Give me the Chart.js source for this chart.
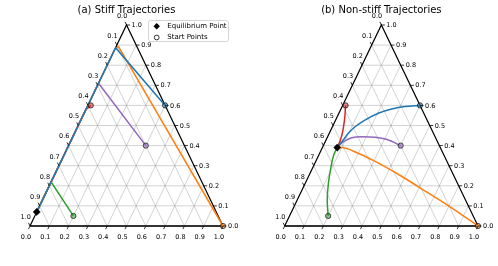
<!DOCTYPE html>
<html><head><meta charset="utf-8">
<script src="https://cdn.jsdelivr.net/npm/chart.js@4.4.0/dist/chart.umd.min.js"></script>
<style>
html,body{margin:0;padding:0;background:#fff;}
#wrap{position:relative;width:498px;height:266px;overflow:hidden;}
canvas{position:absolute;top:0;}
</style></head><body>
<div id="wrap">
<canvas id="ca" width="249" height="266" style="left:0"></canvas>
<canvas id="cb" width="249" height="266" style="left:249px"></canvas>
</div>
<script>
// ---- data (ternary coordinates: [bottom-axis value, right-axis value]) ----
const tickValues = [0,0.1,0.2,0.3,0.4,0.5,0.6,0.7,0.8,0.9,1.0];
const tickLabels = ['0.0','0.1','0.2','0.3','0.4','0.5','0.6','0.7','0.8','0.9','1.0'];
const titles = ['(a) Stiff Trajectories','(b) Non-stiff Trajectories'];
const legendLabels = ['Equilibrium Point','Start Points'];
const seriesColors = ['#1f77b4','#ff7f0e','#2ca02c','#d62728','#9467bd']; // blue, orange, green, red, purple
const startPoints = [[0.40,0.60],[1.00,0.00],[0.20,0.05],[0.015,0.60],[0.40,0.40]];
const eqStiff = [0.00,0.07];
const eqNonStiff = [0.077,0.39];

const stiffBlue   = [[0.40,0.60],[0.00,0.887],[0.00,0.07]];
const stiffOrange = [[1.00,0.00],[0.012,0.893],[0.00,0.88],[0.00,0.07]];
const stiffGreen  = [[0.20,0.05],[0.00,0.219],[0.00,0.07]];
const stiffRed    = [[0.015,0.60],[0.00,0.577],[0.00,0.07]];
const stiffPurple = [[0.40,0.40],[0.00,0.71],[0.00,0.07]];

const nsBlue   = [[0.40,0.60],[0.325,0.594],[0.263,0.582],[0.2035,0.561],[0.1515,0.527],[0.117,0.494],[0.0985,0.461],[0.089,0.428],[0.077,0.39]];
const nsOrange = [[1.00,0.00],[0.8665,0.067],[0.735,0.13],[0.605,0.19],[0.475,0.25],[0.3475,0.305],[0.285,0.33],[0.199,0.362],[0.098,0.39],[0.077,0.39]];
const nsGreen  = [[0.20,0.05],[0.1555,0.129],[0.12,0.212],[0.0945,0.287],[0.0785,0.345],[0.076,0.378],[0.077,0.39]];
const nsRed    = [[0.015,0.60],[0.036,0.552],[0.06,0.486],[0.073,0.436],[0.077,0.39]];
const nsPurple = [[0.40,0.40],[0.322,0.428],[0.2465,0.441],[0.176,0.444],[0.1275,0.439],[0.10,0.424],[0.083,0.406],[0.077,0.39]];

// ---- helpers ----
const toXY = p => ({x: p[0] + 0.5*p[1], y: p[1]});
function withAlpha(hex, a){
  const n = parseInt(hex.slice(1),16);
  return `rgba(${(n>>16)&255},${(n>>8)&255},${n&255},${a})`;
}
function lineDs(points, color, width, curve){
  const d = {data: points.map(toXY), showLine:true, borderColor:color, borderWidth:width,
          pointRadius:0, tension:0, clip:false, fill:false};
  if (curve === 'monotone') d.cubicInterpolationMode = 'monotone';
  else if (curve === 'bezier') d.tension = 0.4;
  return d;
}
function gridDatasets(){
  const out = [];
  const gc = 'rgba(120,120,120,0.55)';
  tickValues.forEach(v=>{
    if (v<=0 || v>=1) return;
    out.push(lineDs([[0,v],[1-v,v]], gc, 0.6));     // right-axis lines
    out.push(lineDs([[v,0],[v,1-v]], gc, 0.6));     // bottom-axis lines
    out.push(lineDs([[1-v,0],[0,1-v]], gc, 0.6));   // left-axis lines
  });
  return out;
}
function buildDatasets(trajs, eq, curves){
  const bottomToTop = [];
  gridDatasets().forEach(d=>bottomToTop.push(d));
  bottomToTop.push(lineDs([[0,0],[1,0]], '#333', 1.8));
  bottomToTop.push(lineDs([[1,0],[0,1],[0,0]], '#000', 1.2));
  // draw order: purple, red, green, orange, blue (blue on top)
  [4,3,2,1,0].forEach(i=>bottomToTop.push(lineDs(trajs[i], seriesColors[i], 1.5, curves[i])));
  bottomToTop.push({data: startPoints.map(toXY), showLine:false, pointStyle:'circle', pointRadius:2.6,
    backgroundColor: seriesColors.map(c=>withAlpha(c,0.55)), borderColor:'#222', borderWidth:0.8, clip:false});
  bottomToTop.push({data:[toXY(eq)], showLine:false, pointStyle:'rectRot', pointRadius:3.6,
    backgroundColor:'#000', borderColor:'#000', borderWidth:0.5, clip:false});
  return bottomToTop.reverse(); // Chart.js draws first dataset on top
}

const ternaryAxes = {
  id:'ternaryAxes',
  afterDatasetsDraw(chart){
    const ctx = chart.ctx, xs = chart.scales.x, ys = chart.scales.y;
    const P = (b,r)=>[xs.getPixelForValue(b+0.5*r), ys.getPixelForValue(r)];
    const [x0,y0] = P(0,0), [x1,y1] = P(0,1);
    let ux = x1-x0, uy = y1-y0; const n = Math.hypot(ux,uy); ux/=n; uy/=n;
    const TL = 3.5;
    ctx.save();
    ctx.strokeStyle = '#000'; ctx.fillStyle = '#000'; ctx.lineWidth = 0.8;
    ctx.font = '6.5px "DejaVu Sans"';
    const seg = (a,b,c,d)=>{ctx.beginPath();ctx.moveTo(a,b);ctx.lineTo(c,d);ctx.stroke();};
    tickValues.forEach((v,i)=>{
      const lab = tickLabels[i];
      let [px,py] = P(v,0);
      seg(px,py,px-ux*TL,py-uy*TL);
      ctx.textAlign='center'; ctx.textBaseline='middle';
      ctx.fillText(lab, px-4, py+11);
      [px,py] = P(1-v,v);
      seg(px,py,px+TL,py);
      ctx.textAlign='left';
      ctx.fillText(lab, px+5, py+0.5);
      [px,py] = P(0,1-v);
      seg(px,py,px-ux*TL,py+uy*TL);
      ctx.textAlign='center';
      ctx.fillText(lab, px-4.4, py-8.8);
    });
    ctx.restore();
  }
};

const legendPlugin = {
  id:'ternLegend',
  afterDraw(chart){
    const ctx = chart.ctx;
    const bx = 148.5, by = 20.5, bw = 80, bh = 21;
    ctx.save();
    ctx.beginPath();
    if (ctx.roundRect) ctx.roundRect(bx,by,bw,bh,2); else ctx.rect(bx,by,bw,bh);
    ctx.fillStyle='rgba(255,255,255,0.85)'; ctx.fill();
    ctx.strokeStyle='#cccccc'; ctx.lineWidth=0.8; ctx.stroke();
    const dx = 156.7, d1 = 26.2, d2 = 37.5;
    ctx.beginPath(); ctx.moveTo(dx,d1-3.2); ctx.lineTo(dx+3.2,d1); ctx.lineTo(dx,d1+3.2); ctx.lineTo(dx-3.2,d1); ctx.closePath();
    ctx.fillStyle='#000'; ctx.fill();
    ctx.beginPath(); ctx.arc(dx,d2,2.4,0,Math.PI*2); ctx.fillStyle='#fff'; ctx.fill();
    ctx.strokeStyle='#000'; ctx.lineWidth=0.8; ctx.stroke();
    ctx.fillStyle='#000'; ctx.font='7px "DejaVu Sans"'; ctx.textAlign='left'; ctx.textBaseline='middle';
    ctx.fillText(legendLabels[0], 167.3, d1);
    ctx.fillText(legendLabels[1], 167.3, d2);
    ctx.restore();
  }
};

function makeChart(id, title, trajs, eq, curves, pad, plugins){
  return new Chart(document.getElementById(id), {
    type:'scatter',
    data:{datasets: buildDatasets(trajs, eq, curves)},
    options:{
      responsive:false, animation:false, events:[],
      layout:{padding:pad},
      scales:{
        x:{type:'linear', min:0, max:1, display:false},
        y:{type:'linear', min:0, max:1, display:false}
      },
      plugins:{
        legend:{display:false}, tooltip:{enabled:false},
        title:{display:true, text:title, color:'#000',
               font:{family:'"DejaVu Sans"', size:10, weight:'normal'},
               padding:{top:4, bottom:9}}
      }
    },
    plugins: plugins
  });
}

makeChart('ca', titles[0], [stiffBlue, stiffOrange, stiffGreen, stiffRed, stiffPurple], eqStiff,
  ['line','line','line','line','line'],
  {left:30, right:26, top:0, bottom:40}, [ternaryAxes, legendPlugin]);
makeChart('cb', titles[1], [nsBlue, nsOrange, nsGreen, nsRed, nsPurple], eqNonStiff,
  ['monotone','monotone','bezier','monotone','monotone'],
  {left:35.7, right:20, top:0, bottom:40}, [ternaryAxes]);
</script>
</body></html>
